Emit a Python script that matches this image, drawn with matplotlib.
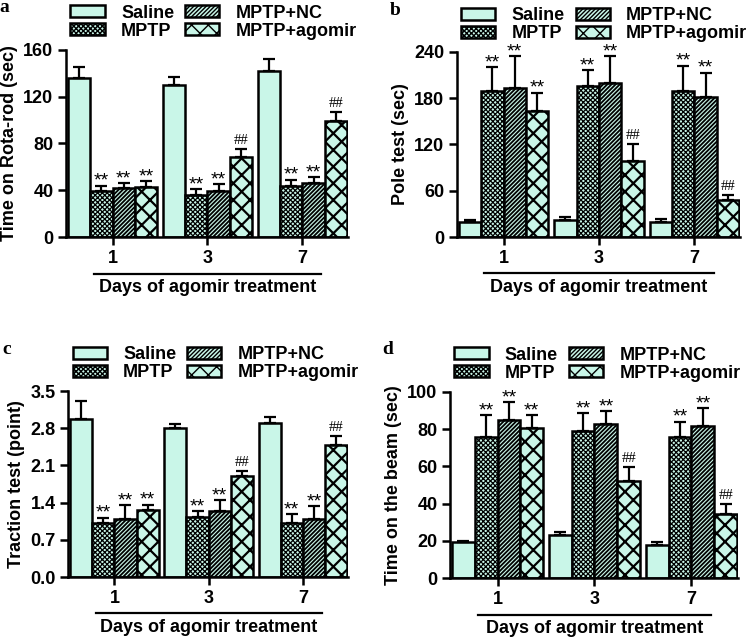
import numpy as np
import matplotlib
matplotlib.use("Agg")
import matplotlib.pyplot as plt
from matplotlib.patches import Patch
import matplotlib.transforms as mtransforms

plt.rcParams['font.family'] = ['Liberation Sans', 'DejaVu Sans']
plt.rcParams['font.weight'] = 'bold'
plt.rcParams['axes.labelweight'] = 'bold'

# groups and days
groups = ['Saline', 'MPTP', 'MPTP+NC', 'MPTP+agomir']
days = ['1', '3', '7']

# a: rota-rod (sec)
rota_mean = [[136, 130, 142], [39, 36, 44], [42, 39, 46], [43, 68, 99]]
rota_err = [[9, 7, 10], [5, 5, 5], [4, 6, 5], [5, 7, 8]]
rota_sig = [['', '', ''], ['**', '**', '**'], ['**', '**', '**'], ['**', '##', '##']]

# b: pole test (sec)
pole_mean = [[19, 22, 20], [189, 196, 189], [193, 199, 181], [163, 99, 48]]
pole_err = [[2.5, 4.5, 3.5], [31, 20, 33], [41, 35, 32], [24, 21, 6]]
pole_sig = [['', '', ''], ['**', '**', '**'], ['**', '**', '**'], ['**', '##', '##']]

# c: traction test (point)
trac_mean = [[2.98, 2.81, 2.89], [1.02, 1.13, 1.02], [1.10, 1.24, 1.09], [1.26, 1.90, 2.48]]
trac_err = [[0.33, 0.07, 0.13], [0.10, 0.11, 0.16], [0.25, 0.21, 0.24], [0.10, 0.10, 0.17]]
trac_sig = [['', '', ''], ['**', '**', '**'], ['**', '**', '**'], ['**', '##', '##']]

# d: time on the beam (sec)
beam_mean = [[19.2, 23.3, 17.9], [75.6, 78.7, 75.6], [84.6, 82.8, 81.5], [80.6, 52, 34.6]]
beam_err = [[1.0, 1.6, 1.8], [11.9, 9.7, 8.3], [9.8, 6.8, 9.5], [6.7, 7.5, 5.2]]
beam_sig = [['', '', ''], ['**', '**', '**'], ['**', '**', '**'], ['**', '##', '##']]

fill = '#c9f6e8'
hatches = ['', 'xxxxxxx', '////////', 'xx']
hatch_lw = [1.0, 0.9, 1.3, 1.6]
w = 0.235


def panel(ax, means, errs, sigs, ylabel, yticks, fmt, letter):
    x = np.arange(len(days))
    for i, g in enumerate(groups):
        pos = x + (i - 1.5) * w
        with plt.rc_context({'hatch.linewidth': hatch_lw[i]}):
            ax.bar(pos, means[i], w, color=fill, edgecolor='black', linewidth=1.8,
                   hatch=hatches[i], zorder=2)
        ax.errorbar(pos, means[i], yerr=[np.zeros(3), errs[i]], fmt='none',
                    ecolor='black', elinewidth=1.6, capsize=4, capthick=1.6, zorder=3)
        for j in range(3):
            s = sigs[i][j]
            if not s:
                continue
            if s == '**':
                ax.annotate(s, (pos[j], means[i][j] + errs[i][j]), xytext=(0, -3),
                            textcoords='offset points', ha='center', va='bottom',
                            fontsize=14, fontweight='normal')
            else:
                ax.annotate(s, (pos[j], means[i][j] + errs[i][j]), xytext=(0, 1.5),
                            textcoords='offset points', ha='center', va='bottom',
                            fontsize=10.5, fontweight='normal', family='Liberation Serif')
    ax.set_xlim(-0.49, 2.48)
    ax.set_ylim(yticks[0], yticks[-1])
    ax.set_yticks(yticks)
    ax.set_yticklabels([fmt % t for t in yticks])
    ax.set_xticks(x)
    ax.set_xticklabels(days)
    ax.spines['top'].set_visible(False)
    ax.spines['right'].set_visible(False)
    for s in ['left', 'bottom']:
        ax.spines[s].set_linewidth(1.8)
    ax.tick_params(width=1.8, length=6, labelsize=13, pad=3)
    ax.set_ylabel(ylabel, fontsize=13, fontweight='bold', labelpad=4)
    trans = mtransforms.blended_transform_factory(ax.transData, ax.transAxes)
    ax.plot([-0.2, 2.2], [-0.195, -0.195], color='black', lw=1.6, transform=trans,
            clip_on=False)
    ax.text(1.0, -0.27, 'Days of agomir treatment', transform=trans, ha='center',
            va='center', fontsize=13, fontweight='bold')
    handles = []
    for i, h in enumerate(hatches):
        with plt.rc_context({'hatch.linewidth': hatch_lw[i]}):
            handles.append(Patch(facecolor=fill, edgecolor='black', linewidth=1.8, hatch=h))
    ax.legend(handles, groups, loc='upper left', bbox_to_anchor=(-0.01, 1.28), ncol=2,
              frameon=False, borderaxespad=0, handlelength=1.9, handleheight=0.65,
              handletextpad=0.9, columnspacing=0.6, labelspacing=0.05, fontsize=13)
    ax.text(-0.235, 1.27, letter, transform=ax.transAxes, fontsize=14, fontweight='bold',
            family='Liberation Serif', va='top', ha='left')


fig = plt.figure(figsize=(7.5, 6.39), dpi=100)
ax_a = fig.add_axes([0.088, 0.629, 0.376, 0.293])
ax_b = fig.add_axes([0.609, 0.629, 0.378, 0.290])
ax_c = fig.add_axes([0.091, 0.097, 0.373, 0.291])
ax_d = fig.add_axes([0.600, 0.095, 0.384, 0.292])

panel(ax_a, rota_mean, rota_err, rota_sig, 'Time on Rota-rod (sec)', [0, 40, 80, 120, 160], '%d', 'a')
panel(ax_b, pole_mean, pole_err, pole_sig, 'Pole test (sec)', [0, 60, 120, 180, 240], '%d', 'b')
panel(ax_c, trac_mean, trac_err, trac_sig, 'Traction test (point)', [0, 0.7, 1.4, 2.1, 2.8, 3.5], '%.1f', 'c')
panel(ax_d, beam_mean, beam_err, beam_sig, 'Time on the beam (sec)', [0, 20, 40, 60, 80, 100], '%d', 'd')

fig.savefig('out.png', dpi=100)
